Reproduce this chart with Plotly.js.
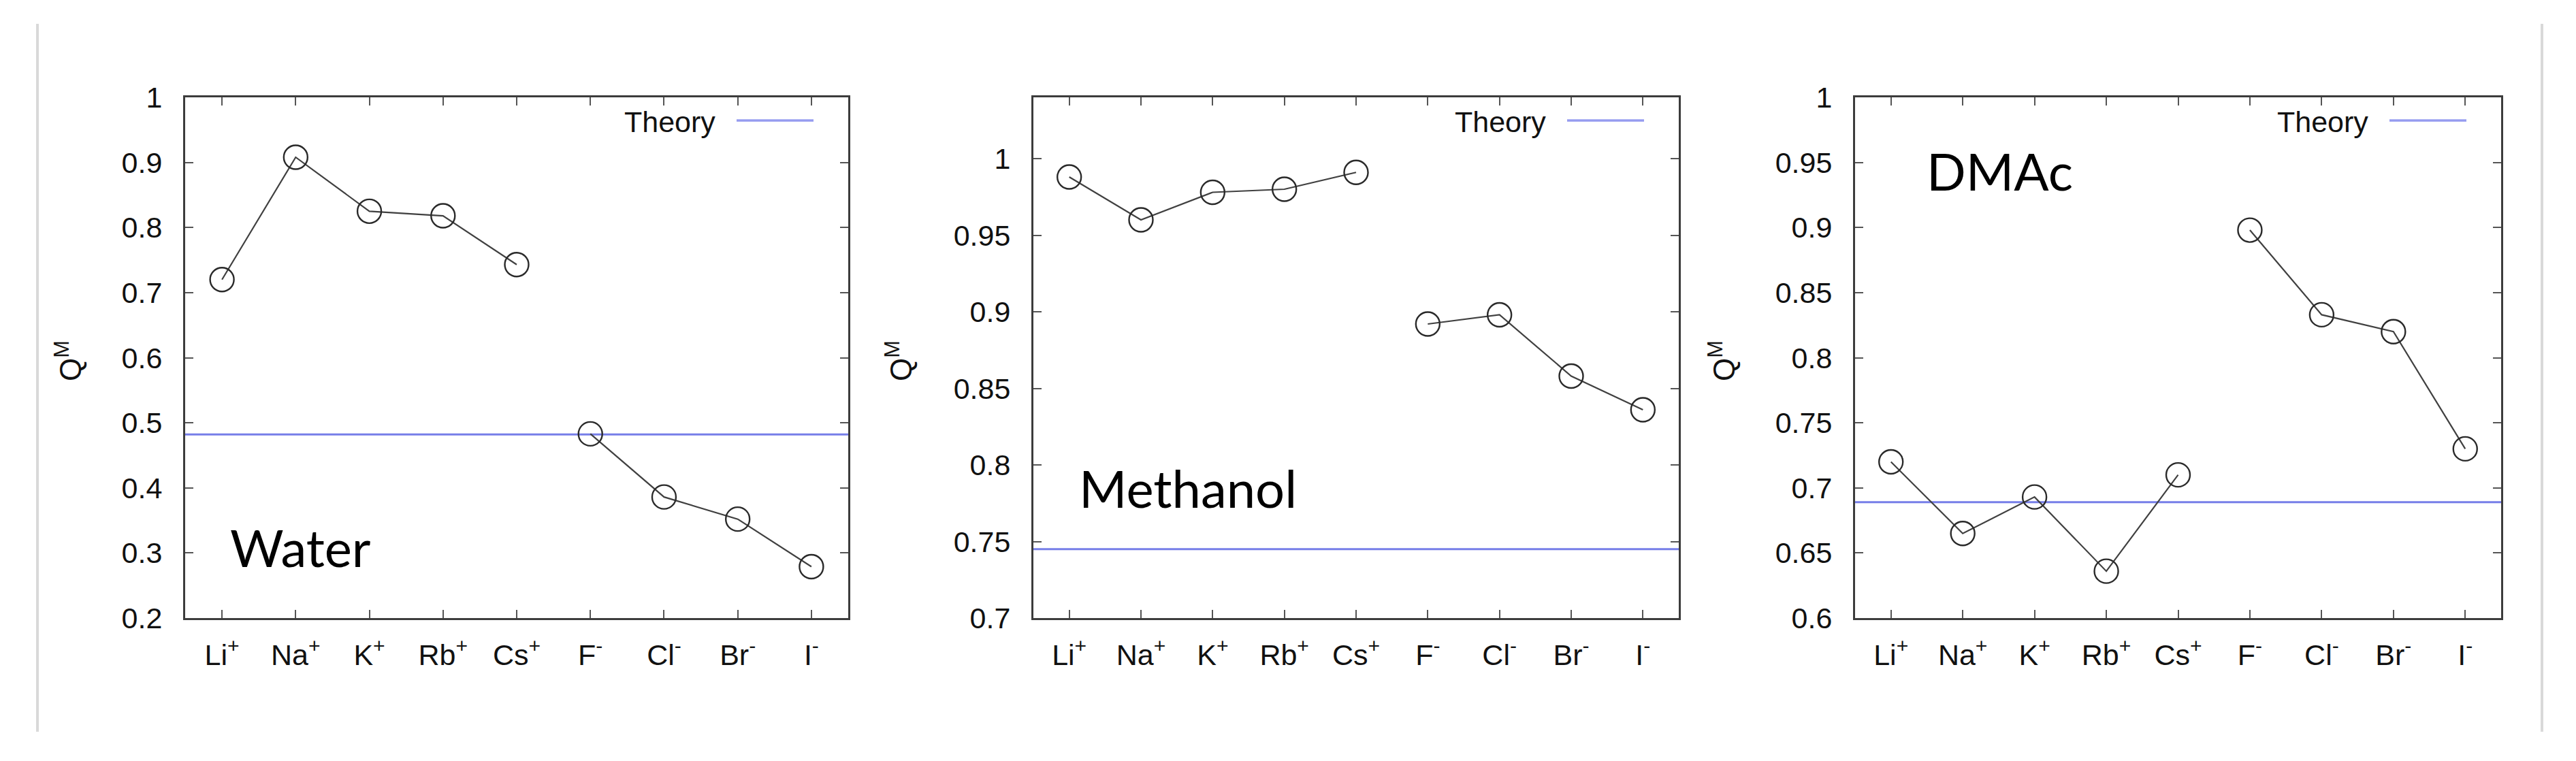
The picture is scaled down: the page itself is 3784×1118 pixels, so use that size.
<!DOCTYPE html>
<html>
<head>
<meta charset="utf-8">
<script src="https://cdn.plot.ly/plotly-3.0.1.min.js"></script>
<style>html,body{margin:0;padding:0;background:#fff;}#chart{width:3784px;height:1118px;}</style>
</head>
<body>
<div id="chart"></div>
<script>
// ---------- data ----------
const ions = ["Li+", "Na+", "K+", "Rb+", "Cs+", "F-", "Cl-", "Br-", "I-"];
const cations = ["Li+", "Na+", "K+", "Rb+", "Cs+"];
const anions = ["F-", "Cl-", "Br-", "I-"];
const ionLabels = ["Li<sup>+</sup>", "Na<sup>+</sup>", "K<sup>+</sup>", "Rb<sup>+</sup>", "Cs<sup>+</sup>",
                   "F<sup>-</sup>", "Cl<sup>-</sup>", "Br<sup>-</sup>", "I<sup>-</sup>"];
const solvents = ["Water", "Methanol", "DMAc"];

const waterCations = [0.720, 0.908, 0.825, 0.818, 0.743];
const waterAnions = [0.483, 0.386, 0.352, 0.279];
const waterTheory = 0.482;

const methanolCations = [0.988, 0.960, 0.978, 0.980, 0.991];
const methanolAnions = [0.892, 0.898, 0.858, 0.836];
const methanolTheory = 0.745;

const dmacCations = [0.720, 0.665, 0.693, 0.636, 0.710];
const dmacAnions = [0.898, 0.833, 0.820, 0.730];
const dmacTheory = 0.689;

const yRanges = [[0.2, 1.0], [0.7, 1.04], [0.6, 1.0]];
const yTick0 = [0.2, 0.7, 0.6];
const yDtick = [0.1, 0.05, 0.05];
const legendName = "Theory";
const yTitle = "Q<sup>M</sup>";

// ---------- layout geometry (pixels) ----------
const W = 3784, H = 1118;
const panels = [
  {l: 272, r: 1246, t: 143, b: 908, titleX: 100, labelX: 336, labelY: 803},
  {l: 1518, r: 2466, t: 143, b: 908, titleX: 1320, labelX: 1583, labelY: 716},
  {l: 2725, r: 3674, t: 143, b: 908, titleX: 2529, labelX: 2828, labelY: 251}
];
const px = x => x / W;
const py = y => 1 - y / H;

const cationSets = [waterCations, methanolCations, dmacCations];
const anionSets = [waterAnions, methanolAnions, dmacAnions];
const theories = [waterTheory, methanolTheory, dmacTheory];

const tickFont = {family: "Liberation Sans, Arial, sans-serif", size: 43, color: "#111"};
const axisColor = "#3c3c3c";
const theoryColor = "rgb(118,126,232)";
const pointStyle = {
  mode: "lines+markers",
  line: {color: "#404040", width: 2.2},
  marker: {symbol: "circle-open", size: 35, color: "#2a2a2a", line: {width: 2.4, color: "#2a2a2a"}},
  showlegend: false,
  hoverinfo: "x+y"
};

const traces = [];
const layout = {
  width: W, height: H,
  margin: {l: 0, r: 0, t: 0, b: 0},
  paper_bgcolor: "#fff", plot_bgcolor: "#fff",
  showlegend: false,
  shapes: [], annotations: []
};

panels.forEach((p, i) => {
  const xa = i === 0 ? "x" : "x" + (i + 1);
  const ya = i === 0 ? "y" : "y" + (i + 1);
  traces.push(Object.assign({x: cations, y: cationSets[i], xaxis: xa, yaxis: ya}, pointStyle));
  traces.push(Object.assign({x: anions, y: anionSets[i], xaxis: xa, yaxis: ya}, pointStyle));

  const axCommon = {
    showline: true, linecolor: axisColor, linewidth: 3, mirror: "ticks",
    ticks: "inside", ticklen: 12, tickwidth: 2, tickcolor: "#555",
    showgrid: false, zeroline: false, tickfont: tickFont, fixedrange: true
  };
  layout["xaxis" + (i === 0 ? "" : i + 1)] = Object.assign({}, axCommon, {
    domain: [px(p.l), px(p.r)], anchor: ya,
    type: "category", categoryorder: "array", categoryarray: ions,
    tickmode: "array", tickvals: ions, ticktext: ionLabels,
    range: [-0.5, ions.length - 0.5],
    ticklabelstandoff: 14
  });
  layout["yaxis" + (i === 0 ? "" : i + 1)] = Object.assign({}, axCommon, {
    domain: [py(p.b), py(p.t)], anchor: xa,
    range: yRanges[i], tick0: yTick0[i], dtick: yDtick[i], tickmode: "linear",
    ticklabelstandoff: 22
  });

  // theory line across the plot
  layout.shapes.push({type: "line", xref: xa + " domain", yref: ya, x0: 0, x1: 1,
    y0: theories[i], y1: theories[i], line: {color: theoryColor, width: 3}, layer: "below"});
  // legend sample
  layout.shapes.push({type: "line", xref: "paper", yref: "paper",
    x0: px(p.r - 164), x1: px(p.r - 51), y0: py(177), y1: py(177),
    line: {color: "rgb(150,156,240)", width: 3.5}});
  layout.annotations.push({xref: "paper", yref: "paper", x: px(p.r - 193), y: py(179),
    xanchor: "right", yanchor: "middle", showarrow: false, text: legendName,
    font: {family: "Liberation Sans, Arial, sans-serif", size: 43, color: "#111"}});
  // y title
  layout.annotations.push({xref: "paper", yref: "paper", x: px(p.titleX), y: py(530),
    xanchor: "center", yanchor: "middle", showarrow: false, text: yTitle, textangle: -90,
    font: {family: "Liberation Sans, Arial, sans-serif", size: 44, color: "#111"}});
  // solvent label
  layout.annotations.push({xref: "paper", yref: "paper", x: px(p.labelX), y: py(p.labelY),
    xanchor: "left", yanchor: "middle", showarrow: false, text: solvents[i],
    font: {family: "Lato, sans-serif", size: 76, color: "#000"}});
});

// faint separator lines at the page edges
[55, 3734].forEach(x => layout.shapes.push({type: "line", xref: "paper", yref: "paper",
  x0: px(x), x1: px(x), y0: py(35), y1: py(1075), line: {color: "#d9d9d9", width: 4}}));

Plotly.newPlot("chart", traces, layout, {displayModeBar: false, staticPlot: true});
</script>
</body>
</html>
